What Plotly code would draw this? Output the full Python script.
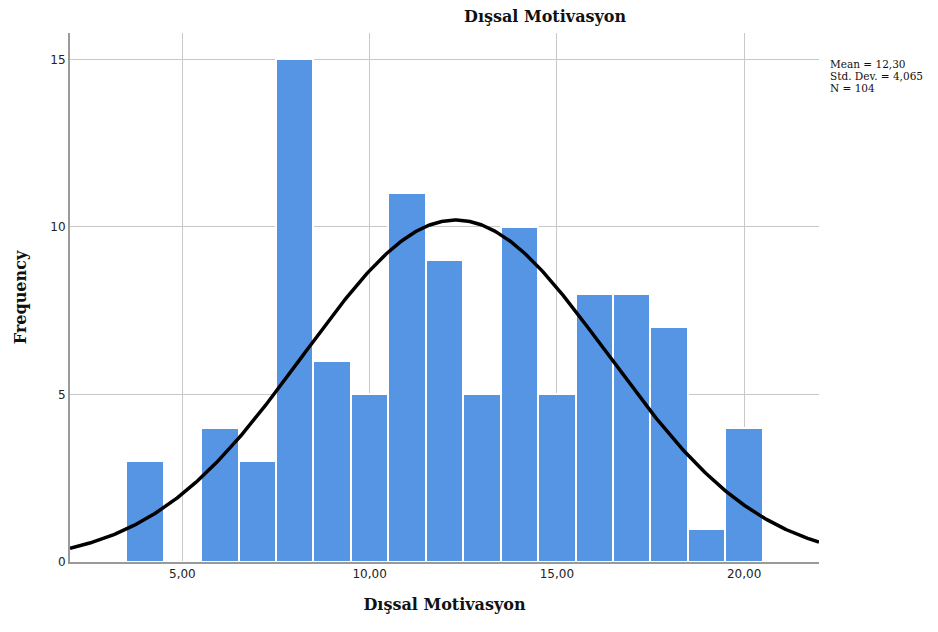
import numpy as np
import plotly.graph_objects as go

# Histogram of "Dışsal Motivasyon" scores (bin width 1, centred on integers)
bin_centers = [4, 5, 6, 7, 8, 9, 10, 11, 12, 13, 14, 15, 16, 17, 18, 19, 20]
frequencies = [3, 0, 4, 3, 15, 6, 5, 11, 9, 5, 10, 5, 8, 8, 7, 1, 4]

# Summary statistics shown beside the chart
mean_val = 12.30
sd_val = 4.065
n_val = 104
bin_width = 1.0

x_ticks = [5, 10, 15, 20]
x_tick_text = ["5,00", "10,00", "15,00", "20,00"]
y_ticks = [0, 5, 10, 15]

# Fitted normal curve scaled to counts
xs = np.linspace(2, 22, 400)
ys = n_val * bin_width / (sd_val * np.sqrt(2 * np.pi)) * np.exp(-0.5 * ((xs - mean_val) / sd_val) ** 2)

W, H = 938, 632
L, R, T, B = 70, 119, 33, 70
plot_w, plot_h = W - L - R, H - T - B


def px_to_paper(px, py):
    """Convert window pixel position to plot-area paper coordinates."""
    return (px - L) / plot_w, (H - B - py) / plot_h


def comma(v, digits):
    """Format a number with a decimal comma."""
    return f"{v:.{digits}f}".replace(".", ",")


fig = go.Figure()
fig.add_trace(go.Bar(
    x=bin_centers, y=frequencies, width=bin_width,
    marker=dict(color="#5694E4", line=dict(color="white", width=2)),
    hoverinfo="x+y",
))
fig.add_trace(go.Scatter(
    x=xs, y=ys, mode="lines",
    line=dict(color="black", width=3.5),
    hoverinfo="skip",
))

serif = "DejaVu Serif"
fig.update_layout(
    width=W, height=H,
    margin=dict(l=L, r=R, t=T, b=B),
    plot_bgcolor="white", paper_bgcolor="white",
    showlegend=False, bargap=0,
    xaxis=dict(
        range=[2, 22], tickvals=x_ticks, ticktext=x_tick_text,
        showgrid=True, gridcolor="#c8c8c8", gridwidth=1,
        showline=True, linecolor="#9a9a9a", linewidth=2,
        ticks="", zeroline=False,
        tickfont=dict(family="DejaVu Sans", size=12, color="#222"),
        title=dict(text="<b>Dışsal Motivasyon</b>",
                   font=dict(family=serif, size=16, color="#111"), standoff=18),
    ),
    yaxis=dict(
        range=[0, 15.79], tickvals=y_ticks,
        showgrid=True, gridcolor="#c8c8c8", gridwidth=1,
        showline=True, linecolor="#9a9a9a", linewidth=2,
        ticks="", zeroline=False,
        tickfont=dict(family="DejaVu Sans", size=12, color="#222"),
        title=dict(text="<b>Frequency</b>",
                   font=dict(family=serif, size=16, color="#111"), standoff=20),
    ),
)

# Chart title
tx, ty = px_to_paper(545, 17)
fig.add_annotation(
    text="<b>Dışsal Motivasyon</b>", xref="paper", yref="paper",
    x=tx, y=ty, xanchor="center", yanchor="middle",
    showarrow=False, font=dict(family=serif, size=16, color="#111"),
)

# Summary statistics beside the plot
stat_lines = [f"Mean = {comma(mean_val, 2)}",
              f"Std. Dev. = {comma(sd_val, 3)}",
              f"N = {n_val}"]
for i, line in enumerate(stat_lines):
    sx, sy = px_to_paper(828, 64 + 12 * i)
    fig.add_annotation(
        text=line, xref="paper", yref="paper",
        x=sx, y=sy, xanchor="left", yanchor="middle",
        showarrow=False,
        font=dict(family=serif, size=10.5, color="#111"),
    )

fig.write_html("out.html")
